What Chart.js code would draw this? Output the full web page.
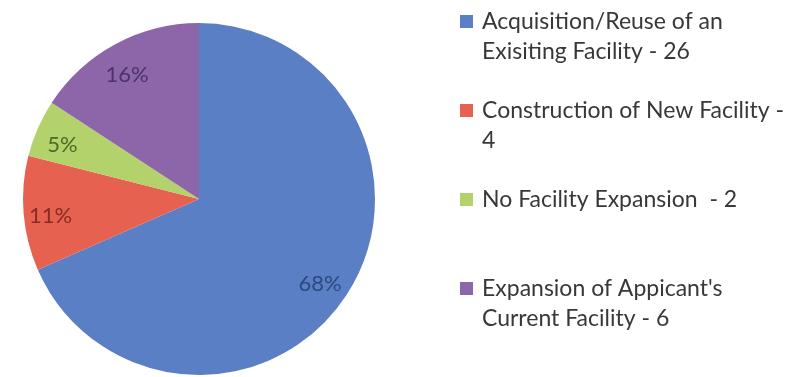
<!DOCTYPE html>
<html>
<head>
<meta charset="utf-8">
<script src="https://cdn.jsdelivr.net/npm/chart.js@4"></script>
<style>
  html, body { margin: 0; padding: 0; background: #fff; }
  #wrap { width: 796px; height: 377px; }
</style>
</head>
<body>
<div id="wrap"><canvas id="myChart" width="796" height="377"></canvas></div>
<script>
const categories = [
  'Acquisition/Reuse of an Exisiting Facility',
  'Construction of New Facility',
  'No Facility Expansion ',
  "Expansion of Appicant's Current Facility"
];
const counts = [26, 4, 2, 6];
const sliceColors = ['#5b7fc4', '#e6614f', '#b4d26c', '#8d66a9'];
const pctColors = ['#2c4a80', '#8a2a24', '#4b6b26', '#4a3468'];

const FONT = 'Lato, "Open Sans", sans-serif';

// percent labels inside each slice
const pctLabels = {
  id: 'pctLabels',
  afterDatasetsDraw(chart) {
    const ctx = chart.ctx;
    const meta = chart.getDatasetMeta(0);
    const data = chart.data.datasets[0].data;
    const total = data.reduce((a, b) => a + b, 0);
    ctx.save();
    ctx.font = '22px ' + FONT;
    ctx.textAlign = 'center';
    ctx.textBaseline = 'middle';
    meta.data.forEach((arc, i) => {
      const p = arc.getProps(['x', 'y', 'startAngle', 'endAngle', 'outerRadius']);
      const mid = (p.startAngle + p.endAngle) / 2;
      const r = p.outerRadius * 0.835;
      ctx.fillStyle = pctColors[i];
      ctx.fillText(Math.round(data[i] / total * 100) + '%', p.x + Math.cos(mid) * r - 2, p.y + Math.sin(mid) * r + 5);
    });
    ctx.restore();
  }
};

// legend on the right, wrapped text
const sideLegend = {
  id: 'sideLegend',
  afterDraw(chart) {
    const ctx = chart.ctx;
    const labels = chart.data.labels;
    const data = chart.data.datasets[0].data;
    const maxW = 308;
    ctx.save();
    ctx.font = '23px ' + FONT;
    ctx.textBaseline = 'middle';
    labels.forEach((lab, i) => {
      const top = 22 + i * 89;
      const words = (lab + ' - ' + data[i]).split(' ');
      const lines = [];
      let cur = '';
      words.forEach(w => {
        const test = cur === '' ? w : cur + ' ' + w;
        if (ctx.measureText(test).width > maxW && cur !== '') {
          lines.push(cur);
          cur = w;
        } else {
          cur = test;
        }
      });
      lines.push(cur);
      ctx.fillStyle = sliceColors[i];
      ctx.fillRect(460, top - 7, 13, 13);
      ctx.fillStyle = '#383838';
      lines.forEach((ln, j) => ctx.fillText(ln, 482, top + j * 30));
    });
    ctx.restore();
  }
};

new Chart(document.getElementById('myChart'), {
  type: 'pie',
  data: {
    labels: categories,
    datasets: [{
      data: counts,
      backgroundColor: sliceColors,
      borderWidth: 0
    }]
  },
  options: {
    responsive: false,
    animation: false,
    layout: { padding: { left: 23, top: 23, right: 421, bottom: 2 } },
    plugins: {
      legend: { display: false },
      tooltip: { enabled: false }
    }
  },
  plugins: [pctLabels, sideLegend]
});
</script>
</body>
</html>
